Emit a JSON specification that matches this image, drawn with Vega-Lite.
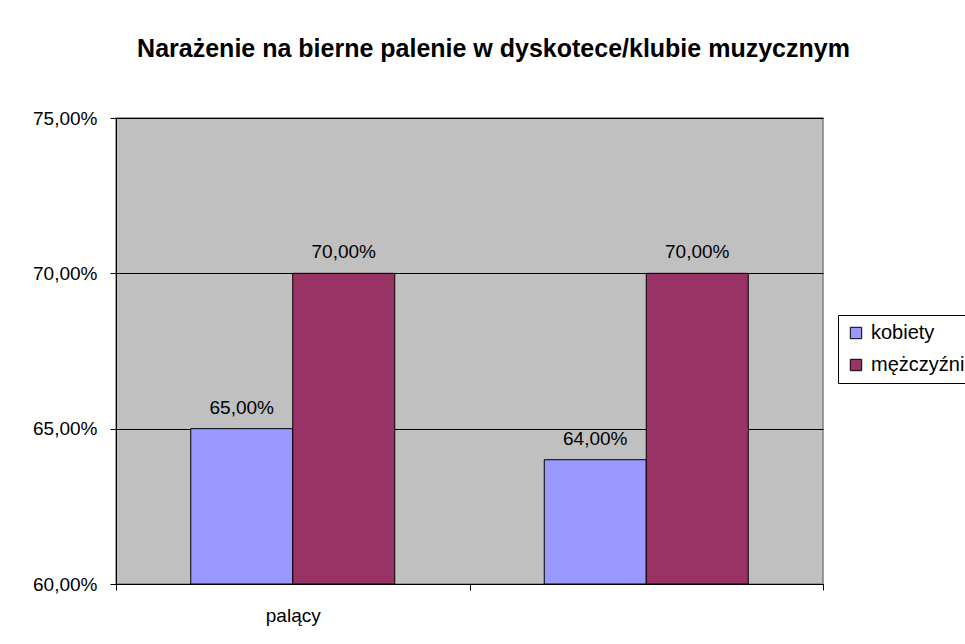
{
  "$schema": "https://vega.github.io/schema/vega-lite/v6.json",
  "autosize": {"type": "none"},
  "width": 707,
  "height": 466,
  "padding": {"left": 116, "top": 118, "right": 142, "bottom": 60},
  "background": "white",
  "config": {
    "locale": {"number": {"decimal": ",", "thousands": " ", "grouping": [3], "currency": ["", " zł"]}},
    "font": "Liberation Sans",
    "view": {"fill": "#C0C0C0", "stroke": "#808080", "strokeWidth": 1.5}
  },
  "title": {
    "text": "Narażenie na bierne palenie w dyskotece/klubie muzycznym",
    "font": "Liberation Sans",
    "fontSize": 25,
    "fontWeight": "bold",
    "color": "black",
    "anchor": "middle",
    "dx": 24,
    "offset": 47
  },
  "data": {
    "values": [
      {"grupa": "palący", "plec": "kobiety", "wartosc": 0.65},
      {"grupa": "palący", "plec": "mężczyźni", "wartosc": 0.70},
      {"grupa": " ", "plec": "kobiety", "wartosc": 0.64},
      {"grupa": " ", "plec": "mężczyźni", "wartosc": 0.70}
    ]
  },
  "encoding": {
    "x": {
      "field": "grupa",
      "type": "nominal",
      "sort": null,
      "scale": {"paddingInner": 0, "paddingOuter": 0},
      "axis": {
        "title": null,
        "labelAngle": 0,
        "tickBand": "extent",
        "domainColor": "black",
        "tickColor": "black",
        "tickSize": 6,
        "labelFont": "Liberation Sans",
        "labelFontSize": 19,
        "labelColor": "black",
        "labelPadding": 16,
        "grid": false
      }
    },
    "xOffset": {
      "field": "plec",
      "type": "nominal",
      "scale": {"paddingInner": 0, "paddingOuter": 0.733}
    },
    "y": {
      "field": "wartosc",
      "type": "quantitative",
      "scale": {"domain": [0.6, 0.75], "zero": false, "clamp": true},
      "axis": {
        "title": null,
        "values": [0.6, 0.65, 0.7, 0.75],
        "format": ".2%",
        "grid": true,
        "gridColor": "black",
        "gridWidth": 1,
        "domainColor": "black",
        "tickColor": "black",
        "tickSize": 6,
        "labelFont": "Liberation Sans",
        "labelFontSize": 19,
        "labelColor": "black",
        "labelPadding": 13
      }
    }
  },
  "layer": [
    {
      "mark": {"type": "bar", "stroke": "black", "strokeWidth": 1},
      "encoding": {
        "color": {
          "field": "plec",
          "type": "nominal",
          "scale": {"domain": ["kobiety", "mężczyźni"], "range": ["#9999FF", "#993366"]},
          "legend": {
            "title": null,
            "orient": "none",
            "legendX": 722,
            "legendY": 197,
            "strokeColor": "black",
            "fillColor": "white",
            "padding": 8,
            "symbolType": "square",
            "symbolSize": 130,
            "symbolStrokeColor": "black",
            "symbolStrokeWidth": 1,
            "labelFont": "Liberation Sans",
            "labelFontSize": 20,
            "labelColor": "black",
            "labelOffset": 5,
            "rowPadding": 12
          }
        }
      }
    },
    {
      "mark": {"type": "text", "baseline": "alphabetic", "dy": -15, "font": "Liberation Sans", "fontSize": 19, "color": "black"},
      "encoding": {
        "text": {"field": "wartosc", "type": "quantitative", "format": ".2%"}
      }
    }
  ]
}
